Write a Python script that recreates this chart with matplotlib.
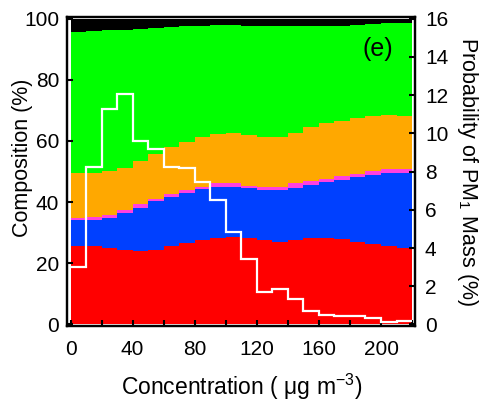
import numpy as np
import matplotlib
matplotlib.use("Agg")
import matplotlib.pyplot as plt
from matplotlib.ticker import MultipleLocator

plt.rcParams['font.family'] = ['Liberation Sans', 'DejaVu Sans']
plt.rcParams['mathtext.fontset'] = 'custom'
plt.rcParams['mathtext.rm'] = 'Liberation Sans'
plt.rcParams['mathtext.it'] = 'Liberation Sans:italic'

# bin edges (ug m-3)
bin_edges = [0, 10, 20, 30, 40, 50, 60, 70, 80, 90, 100, 110, 120, 130, 140,
             150, 160, 170, 180, 190, 200, 210, 220]

# composition (%) of each layer, bottom to top
red = [25.8, 25.8, 25.1, 24.4, 24.0, 24.5, 25.6, 26.5, 27.5, 28.2, 28.6,
       28.2, 27.5, 27.1, 27.5, 28.2, 28.2, 27.8, 27.1, 26.2, 25.6, 24.9]
blue = [8.2, 8.5, 9.8, 12.2, 14.2, 15.8, 16.1, 16.5, 16.7, 16.7, 16.3,
        16.4, 16.4, 16.8, 17.1, 17.3, 18.3, 19.4, 21.0, 22.8, 23.8, 24.5]
magenta = [0.9, 0.8, 0.8, 0.7, 1.1, 0.7, 0.9, 0.9, 0.8, 1.2, 1.2,
           0.8, 1.1, 1.1, 1.5, 1.4, 1.1, 1.4, 1.1, 1.1, 1.3, 1.3]
orange = [14.7, 14.5, 14.4, 13.9, 14.1, 14.7, 15.5, 15.8, 16.4, 16.2, 16.4,
          16.6, 16.3, 16.3, 16.6, 17.7, 18.3, 17.9, 18.3, 18.0, 17.7, 17.5]
green = [46.1, 46.4, 46.1, 45.2, 43.3, 41.3, 39.2, 37.7, 36.2, 35.5, 35.4,
         35.7, 36.1, 36.1, 35.0, 33.1, 31.8, 31.2, 30.4, 30.0, 30.0, 30.2]
black = [4.3, 4.0, 3.8, 3.6, 3.3, 3.0, 2.7, 2.6, 2.4, 2.2, 2.1,
         2.3, 2.6, 2.6, 2.3, 2.3, 2.3, 2.3, 2.1, 1.9, 1.6, 1.6]

# probability of PM1 mass (%)
prob = [3.03, 8.23, 11.29, 12.03, 9.6, 9.19, 8.25, 8.2, 7.46, 6.53, 4.83,
        3.43, 1.72, 1.87, 1.33, 0.72, 0.51, 0.47, 0.42, 0.35, 0.13, 0.18]

layers = [red, blue, magenta, orange, green, black]
colors = ['#ff0000', '#0040ff', '#ff40e0', '#ffa800', '#00ff00', '#000000']

fig = plt.figure(figsize=(4.89, 4.05), dpi=100)
ax = fig.add_axes([0.138, 0.195, 0.711, 0.763])

base = np.zeros(len(red))
for vals, c in zip(layers, colors):
    v = np.asarray(vals, dtype=float)
    ax.stairs(base + v, bin_edges, baseline=base.copy(), fill=True,
              color=c, linewidth=0)
    base = base + v

ax.set_xlim(-2, 222)
ax.set_ylim(-0.5, 100.5)
ax.xaxis.set_major_locator(MultipleLocator(40))
ax.xaxis.set_minor_locator(MultipleLocator(20))
ax.yaxis.set_major_locator(MultipleLocator(20))
ax.tick_params(axis='both', which='both', direction='in', length=4, width=1.5,
               labelsize=15)
ax.tick_params(axis='x', pad=10)
ax.tick_params(axis='y', pad=6)
ax.tick_params(axis='x', which='minor', length=4, width=1.5)
for s in ax.spines.values():
    s.set_linewidth(1.6)
ax.set_xlabel('Concentration ( μg m$^\\mathregular{-3}$)', fontsize=16.5)
ax.xaxis.set_label_coords(0.5, -0.149)
ax.set_ylabel('Composition (%)', fontsize=15.5)
ax.yaxis.set_label_coords(-0.099, 0.544)

ax2 = ax.twinx()
ax2.stairs(prob, bin_edges, color='white', linewidth=1.6, baseline=None)
ax2.set_ylim(-0.08, 16.08)
ax2.yaxis.set_major_locator(MultipleLocator(2))
ax2.tick_params(axis='y', direction='in', length=4, width=1.5, labelsize=15, pad=7)
for s in ax2.spines.values():
    s.set_linewidth(1.6)
ax2.set_ylabel('Probability of PM$_\\mathregular{1}$ Mass (%)', fontsize=15.5,
               rotation=270)
ax2.yaxis.set_label_coords(1.187, 0.5)

ax.text(198, 90, '(e)', fontsize=18, ha='center', va='center')

fig.savefig('out.png', dpi=100)
